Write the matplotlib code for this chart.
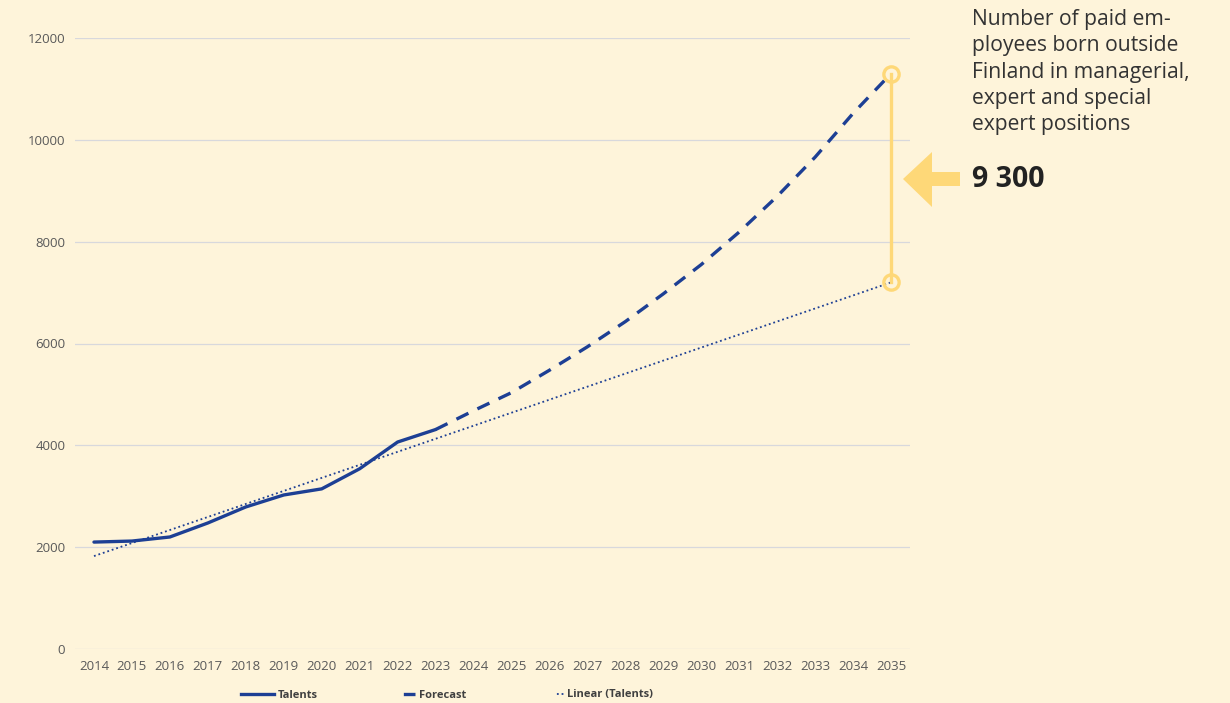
import matplotlib.pyplot as plt
from matplotlib.patches import Polygon
from matplotlib.lines import Line2D

plt.rcParams['font.family'] = ['Open Sans', 'DejaVu Sans']

years_hist = [2014, 2015, 2016, 2017, 2018, 2019, 2020, 2021, 2022, 2023]
talents = [2100, 2120, 2200, 2475, 2790, 3025, 3145, 3540, 4065, 4310]

years_fc = [2023, 2024, 2025, 2026, 2027, 2028, 2029, 2030, 2031, 2032, 2033, 2034, 2035]
forecast = [4310, 4680, 5035, 5475, 5935, 6430, 6975, 7550, 8190, 8890, 9660, 10520, 11300]

trend_years = [2014, 2035]
trend = [1825, 7200]

gap_label = '9 300'
note = 'Number of paid em-\nployees born outside\nFinland in managerial,\nexpert and special\nexpert positions'

bg = '#fef4da'
blue = '#1d3f94'
yellow = '#fed878'

fig = plt.figure(figsize=(12.3, 7.03), dpi=100, facecolor=bg)
ax = fig.add_axes([75/1230, 54/703, 835/1230, 611/703])
ax.set_facecolor(bg)

ax.plot(years_hist, talents, color=blue, lw=2.4, solid_capstyle='round', zorder=3)
ax.plot(years_fc, forecast, color=blue, lw=2.4, dashes=(4, 3), zorder=3)
ax.plot(trend_years, trend, color=blue, lw=1.3, linestyle=(0, (1, 1.6)), zorder=3)

# gap between forecast and trend in 2035
ax.plot([2035, 2035], [trend[-1], forecast[-1]], color=yellow, lw=2.4, zorder=4, clip_on=False)
ax.plot([2035, 2035], [trend[-1], forecast[-1]], 'o', ms=11, mfc='none', mec=yellow, mew=2.4,
        zorder=5, clip_on=False)

ax.set_xlim(2013.5, 2035.5)
ax.set_ylim(0, 12000)
ax.set_xticks(range(2014, 2036))
ax.set_yticks(range(0, 12001, 2000))
ax.grid(axis='y', color='#d8d8dc', lw=0.9)
ax.set_axisbelow(True)
for s in ax.spines.values():
    s.set_visible(False)
ax.tick_params(length=0, colors='#595959', labelsize=9.5)
ax.tick_params(axis='y', pad=7)
ax.tick_params(axis='x', pad=8)

# arrow pointing at the gap
pts = [(903, 179), (932, 152), (932, 172), (960, 172), (960, 186), (932, 186), (932, 207)]
arrow = Polygon([(x / 1230, 1 - y / 703) for x, y in pts], closed=True,
                transform=fig.transFigure, facecolor=yellow, edgecolor='none')
fig.patches.append(arrow)

fig.text(972/1230, 1 - 187/703, gap_label, fontsize=20.5, fontweight='bold', color='#222222',
         va='baseline', ha='left')
fig.text(972/1230, 1 - 9/703, note, fontsize=15.2, color='#333333', va='top', ha='left',
         linespacing=1.33)

# legend handles: Excel-style short dash / dots sitting next to the label
handles = [Line2D([], [], color=blue, lw=2.4),
           Line2D([], [], color=blue, lw=2.4, linestyle=(17.2, (3.6, 20))),
           Line2D([], [], color=blue, lw=1.3, linestyle=(8.7, (1, 1.6, 1, 20)))]
leg = fig.legend(handles, ['Talents', 'Forecast', 'Linear (Talents)'], loc='center',
                 bbox_to_anchor=(447/1230, 1 - 695/703), ncol=3, frameon=False,
                 prop={'size': 8, 'weight': 'bold'}, handlelength=3.0, handletextpad=0.3,
                 columnspacing=5.8)
for t in leg.get_texts():
    t.set_color('#404040')

fig.savefig('out.png', dpi=100, facecolor=bg)
